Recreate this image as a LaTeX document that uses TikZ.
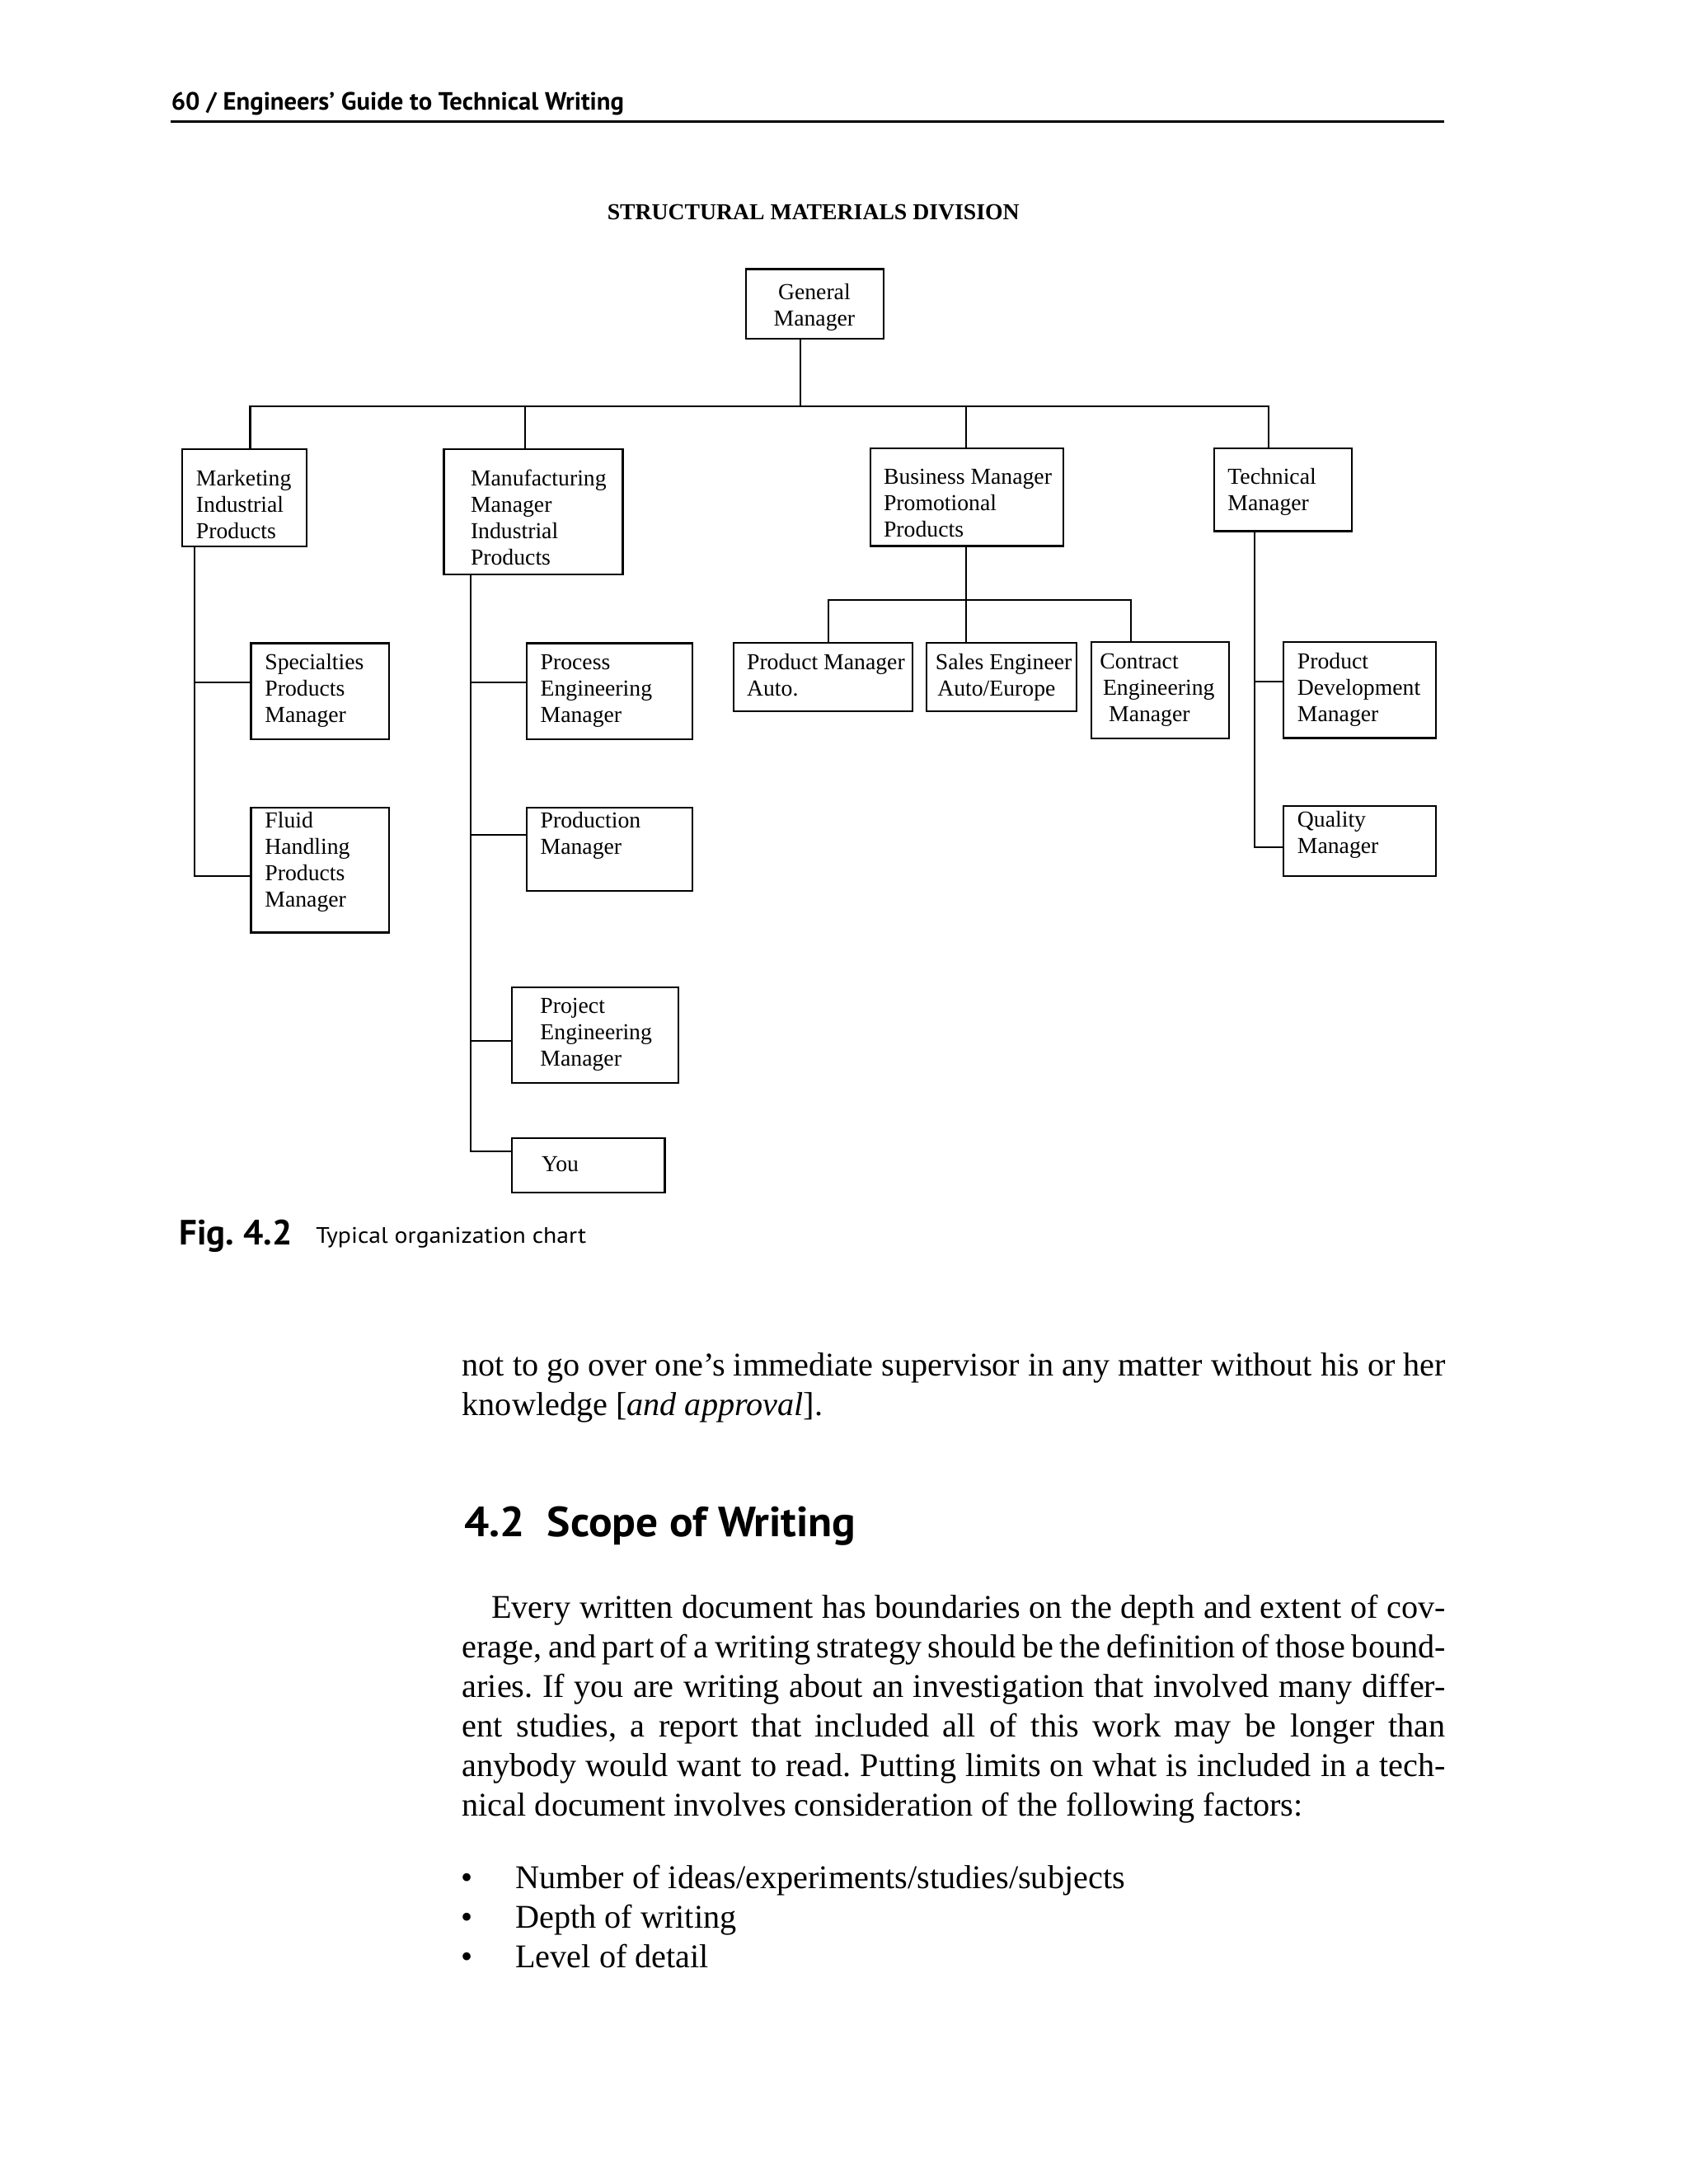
\documentclass[tikz,border=0pt]{standalone}
\usepackage{fontspec}
\usepackage{graphicx}
\setmainfont{Liberation Serif}
\newfontfamily\sansf{PT Sans}
\frenchspacing
\tikzset{
  obox/.style={draw, line width=0.65pt, inner sep=0pt, anchor=north west},
  ct/.style={inner sep=0pt, anchor=base west, font=\fontsize{8.2}{9.45}\selectfont},
  conn/.style={line width=0.6pt},
  body/.style={inner sep=0pt, anchor=base west, font=\fontsize{11.9}{14.25}\selectfont},
  plain/.style={inner sep=0pt, anchor=base west},
}
\newcommand\mybox[5]{\node[obox, minimum width={(#4-#2)*0.5pt}, minimum height={(#5-#3)*0.5pt}] (#1) at (#2,#3) {};}
\newcommand\ctext[4]{\node[ct] (#1) at (#2,#3) {\vtop{\baselineskip=9.45pt\halign{##\hfil\cr#4\crcr}}};}
\newcommand\jl[1]{\hbox to 353pt{#1}}
\begin{document}
\begin{tikzpicture}[x=0.5pt,y=-0.5pt]
\useasboundingbox (0,0) rectangle (1212,1568.2);
\fill[white] (0,0) rectangle (1212,1568.2);

% running header
\node[plain] (hdr) at (122.6,79) {\resizebox{162.5pt}{6.4pt}{\sansf\bfseries 60 / Engineers’ Guide to Technical Writing}};
\coordinate (ruleL) at (122.6,87.4);
\coordinate (ruleR) at (1037,87.4);
\draw[line width=0.75pt] (ruleL) -- (ruleR);

% chart title
\node[plain] (title) at (435.6,157.9) {\fontsize{8.2}{10}\selectfont\bfseries STRUCTURAL MATERIALS DIVISION};

% boxes
\mybox{gm}{535}{192.6}{633.5}{242.4}
\mybox{mkt}{130}{322}{219.4}{391.8}
\mybox{mfg}{318}{322}{446.4}{412}
\mybox{bus}{624.4}{321.3}{762.7}{391.4}
\mybox{tech}{871}{321.3}{970}{380.8}
\mybox{spec}{179.6}{461.2}{278.5}{530.3}
\mybox{fluid}{179.6}{579.4}{278.5}{668.9}
\mybox{proc}{377.4}{461.2}{496.4}{530.3}
\mybox{prod}{377.4}{579.4}{496.4}{639}
\mybox{proj}{367}{708.3}{486.3}{777}
\mybox{you}{367}{816.5}{476.6}{855.7}
\mybox{pma}{525.9}{461}{654.3}{510}
\mybox{sales}{664.3}{461}{772.4}{510}
\mybox{contr}{782.7}{460.2}{881.5}{529.5}
\mybox{pdev}{920.9}{460.2}{1030}{529.3}
\mybox{qual}{920.9}{578.3}{1030}{628.2}

% box texts
\node[ct, anchor=base] (gmT) at (584.6,215) {\vtop{\baselineskip=9.45pt\halign{\hfil#\hfil\cr General\cr Manager\crcr}}};
\ctext{mktT}{140.4}{348.8}{Marketing\cr Industrial\cr Products}
\ctext{mfgT}{337.5}{348.8}{Manufacturing\cr Manager\cr Industrial\cr Products}
\ctext{busT}{634}{347.7}{Business Manager\cr Promotional\cr Products}
\ctext{techT}{881}{347.7}{Technical\cr Manager}
\ctext{specT}{189.8}{480.6}{Specialties\cr Products\cr Manager}
\ctext{procT}{387.6}{480.6}{Process\cr Engineering\cr Manager}
\ctext{fluidT}{189.8}{594.6}{Fluid\cr Handling\cr Products\cr Manager}
\ctext{prodT}{387.6}{594.6}{Production\cr Manager}
\ctext{projT}{387.5}{727.6}{Project\cr Engineering\cr Manager}
\ctext{youT}{388.4}{841.1}{You}
\ctext{pmaT}{535.8}{480.6}{Product Manager\cr Auto.}
\ctext{salesT}{671.2}{480.6}{Sales Engineer\cr \hspace*{0.7pt}Auto/Europe}
\ctext{contrT}{789.2}{480.2}{Contract\cr \hspace*{1.1pt}Engineering\cr \hspace*{3.2pt}Manager}
\ctext{pdevT}{931}{480.2}{Product\cr Development\cr Manager}
\ctext{qualT}{931}{594}{Quality\cr Manager}

% top bus
\coordinate (busL) at (179.6,291.5);
\coordinate (busGM) at (574.5,291.5);
\coordinate (busM) at (377.2,291.5);
\coordinate (busB) at (693.5,291.5);
\coordinate (busR) at (910.5,291.5);
\draw[conn] (busL |- mkt.north) -- (busL) -- (busR) -- (busR |- tech.north);
\draw[conn] (busGM |- gm.south) -- (busGM);
\draw[conn] (busM) -- (busM |- mfg.north);
\draw[conn] (busB) -- (busB |- bus.north);

% marketing trunk
\coordinate (mkA) at (139.8,490.2);
\coordinate (mkB) at (139.8,629);
\draw[conn] (mkA |- mkt.south) -- (mkB) -- (mkB -| fluid.west);
\draw[conn] (mkA) -- (mkA -| spec.west);

% manufacturing trunk
\coordinate (mfA) at (337.7,490);
\coordinate (mfB) at (337.7,599.4);
\coordinate (mfC) at (337.7,747.6);
\coordinate (mfD) at (337.7,826.5);
\draw[conn] (mfA |- mfg.south) -- (mfD) -- (mfD -| you.west);
\draw[conn] (mfA) -- (mfA -| proc.west);
\draw[conn] (mfB) -- (mfB -| prod.west);
\draw[conn] (mfC) -- (mfC -| proj.west);

% business sub-bus
\coordinate (bsL) at (594.7,430.8);
\coordinate (bsM) at (693.5,430.8);
\coordinate (bsR) at (811.7,430.8);
\draw[conn] (bsM |- bus.south) -- (bsM) -- (bsM |- sales.north);
\draw[conn] (bsL |- pma.north) -- (bsL) -- (bsR) -- (bsR |- contr.north);

% technical trunk
\coordinate (teA) at (900.8,489.6);
\coordinate (teB) at (900.8,608.5);
\draw[conn] (teA |- tech.south) -- (teB) -- (teB -| qual.west);
\draw[conn] (teA) -- (teA -| pdev.west);

% caption
\node[plain] (figno) at (128.3,893.6) {\resizebox{40.5pt}{9.0pt}{\sansf\bfseries Fig. 4.2}};
\node[plain] (figcap) at (226.5,892.9) {\resizebox{97pt}{5.7pt}{\sansf Typical organization chart}};

% body text
\node[body] (para1) at (331.4,987.7) {\spaceskip=0.25em plus 0.3em minus 0.1em\vtop{\baselineskip=14.3pt
  \jl{not to go over one’s immediate supervisor in any matter without his or her}
  \hbox{knowledge [\textit{and approval}].}}};

\node[plain] (sect) at (333,1103.2) {\resizebox{140.5pt}{10.8pt}{\sansf\bfseries 4.2\hspace{0.5em}Scope of Writing}};

\node[body] (para2) at (331.4,1161.7) {\spaceskip=0.25em plus 0.3em minus 0.1em\vtop{\baselineskip=14.2pt
  \jl{\hspace*{10.5pt}Every written document has boundaries on the depth and extent of cov-}
  \jl{erage, and part of a writing strategy should be the definition of those bound-}
  \jl{aries. If you are writing about an investigation that involved many differ-}
  \jl{ent studies, a report that included all of this work may be longer than}
  \jl{anybody would want to read. Putting limits on what is included in a tech-}
  \hbox{nical document involves consideration of the following factors:}}};

\node[body] (bullets) at (330.5,1355.8) {\vtop{\baselineskip=14.2pt\hbox{•}\hbox{•}\hbox{•}}};
\node[body] (items) at (369.7,1355.8) {\vtop{\baselineskip=14.2pt
  \hbox{Number of ideas/experiments/studies/subjects}
  \hbox{Depth of writing}
  \hbox{Level of detail}}};
\end{tikzpicture}
\end{document}
